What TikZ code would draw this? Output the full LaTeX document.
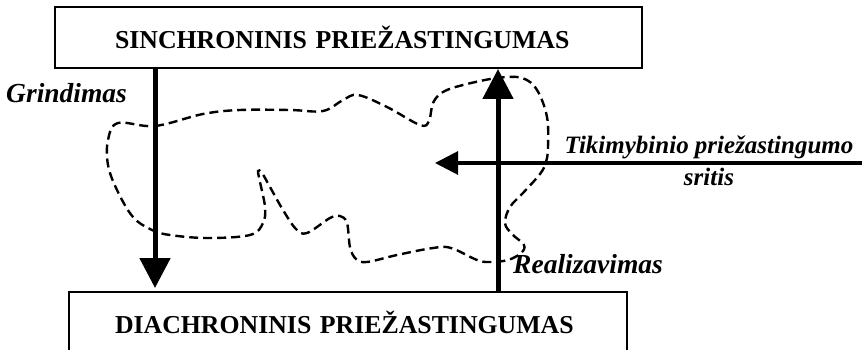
\documentclass[tikz,border=0pt]{standalone}
\usepackage{fontspec}
\setmainfont{Liberation Serif}
\usetikzlibrary{arrows.meta}

\begin{document}
\begin{tikzpicture}[
    x=1pt,
    y=-1pt,
    font=\fontsize{25.6}{30}\selectfont,
    levelbox/.style={draw, line width=2pt, minimum height=61pt, inner ysep=0pt, align=left, font=\fontsize{25.8}{30}\selectfont\bfseries},
    tag/.style={font=\fontsize{27.5}{32}\selectfont\bfseries\itshape, inner sep=0pt},
    bigarrow/.style={line width=5pt, -{Triangle[length=30pt, width=30pt]}},
    thinarrow/.style={line width=3pt, -{Triangle[length=23pt, width=23pt]}},
    region/.style={line width=2.4pt, dash pattern=on 9pt off 5pt}
]
\clip (0,0) rectangle (862,350);
\fill[white] (0,0) rectangle (862,350);

\node[levelbox, inner xsep=60pt, text width=467pt] (sync) at (348.5,37.5) {SINCHRONINIS PRIEŽASTINGUMAS};
\node[levelbox, inner xsep=46pt, text width=466pt] (diac) at (348,322.5) {DIACHRONINIS PRIEŽASTINGUMAS};

% region of probabilistic causation
\draw[region] plot[smooth cycle, tension=0.6] coordinates {
    (118,123) (155,126) (203,114) (240,110) (290,110) (323,111) (343,100) (358,95)
    (387,107) (420,125) (429,121) (433,103) (443,92) (463,85) (497,78) (522,78)
    (537,90) (547,117) (548,147) (546,162) (540,174) (523,193) (510,207) (505,223)
    (512,234) (524,245) (521,253) (508,260) (490,262) (477,260) (451,248) (433,248)
    (397,255) (367,262) (356,259) (350,247) (347,223) (340,216) (330,218) (307,233)
    (296,229) (283,210) (270,187) (262,173) (258,171) (260,182) (265,207) (263,223)
    (250,235) (207,238) (170,235) (152,230) (133,217) (117,190) (108,165) (108,140)};

\coordinate (gx) at (155,0);
\coordinate (rx) at (498,0);
\draw[bigarrow, shorten >=3pt] (gx |- sync.south) -- (gx |- diac.north);
\draw[bigarrow] (rx |- diac.north) -- (rx |- sync.south);

\coordinate (tikend) at (862,163);
\coordinate (tiktip) at (435,163);
\draw[thinarrow] (tikend) -- (tiktip);

\node[tag, anchor=base west] (grind) at (6,103) {Grindimas};
\node[tag, anchor=base west] (real) at (513,273) {Realizavimas};
\node[tag, anchor=base, align=center, font=\fontsize{25}{32}\selectfont\bfseries\itshape] (tik) at (709,185) {Tikimybinio priežastingumo\\sritis};
\end{tikzpicture}
\end{document}
